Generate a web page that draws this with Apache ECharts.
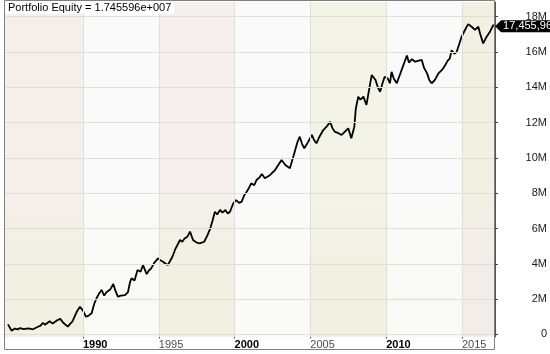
<!DOCTYPE html>
<html><head><meta charset="utf-8">
<script src="https://cdn.jsdelivr.net/npm/echarts@6/dist/echarts.min.js"></script>
<style>html,body{margin:0;padding:0;background:#fff}#c{width:550px;height:354px}</style>
</head><body><div id="c"></div>
<script>
// Decimal years and portfolio equity (millions)
const years = [1985.05,1985.2,1985.3,1985.5,1985.7,1985.84,1986.1,1986.4,1986.7,1987.0,1987.2,1987.36,1987.5,1987.8,1988.0,1988.3,1988.5,1988.7,1989.0,1989.15,1989.3,1989.6,1989.8,1990.0,1990.2,1990.35,1990.57,1990.75,1990.9,1991.05,1991.23,1991.4,1991.56,1991.8,1992.0,1992.15,1992.3,1992.5,1992.77,1992.97,1993.1,1993.2,1993.4,1993.6,1993.8,1993.96,1994.2,1994.35,1994.5,1994.7,1994.95,1995.1,1995.28,1995.45,1995.6,1995.9,1996.1,1996.4,1996.55,1996.7,1996.9,1997.06,1997.26,1997.5,1997.7,1998.0,1998.2,1998.4,1998.55,1998.7,1998.85,1999.04,1999.2,1999.4,1999.55,1999.7,1999.9,2000.1,2000.3,2000.47,2000.65,2000.8,2000.95,2001.1,2001.3,2001.45,2001.65,2001.8,2002.0,2002.1,2002.3,2002.45,2002.67,2002.85,2003.1,2003.35,2003.65,2003.85,2004.0,2004.15,2004.3,2004.45,2004.6,2004.85,2005.1,2005.25,2005.4,2005.6,2005.85,2006.1,2006.3,2006.45,2006.6,2006.85,2007.06,2007.3,2007.5,2007.7,2007.9,2008.0,2008.16,2008.3,2008.5,2008.7,2008.9,2009.05,2009.3,2009.45,2009.6,2009.75,2009.9,2010.1,2010.25,2010.36,2010.5,2010.7,2010.9,2011.1,2011.37,2011.5,2011.7,2011.9,2012.1,2012.35,2012.5,2012.7,2012.85,2013.0,2013.2,2013.45,2013.7,2013.9,2014.05,2014.2,2014.32,2014.5,2014.65,2014.8,2014.98,2015.31,2015.42,2015.64,2015.86,2016.08,2016.19,2016.4,2016.63,2016.85,2016.96,2017.07,2017.12];
const equity = [0.57,0.35,0.21,0.33,0.28,0.36,0.30,0.34,0.29,0.42,0.50,0.65,0.55,0.74,0.62,0.80,0.88,0.66,0.44,0.60,0.72,1.30,1.57,1.35,1.00,1.05,1.20,1.75,2.06,2.30,2.52,2.20,2.40,2.55,2.86,2.45,2.14,2.20,2.23,2.40,2.95,3.18,3.05,3.65,3.55,3.93,3.42,3.62,3.74,4.05,4.31,4.20,4.12,4.00,3.93,4.40,4.85,5.35,5.25,5.44,5.55,5.82,5.35,5.20,5.16,5.25,5.60,6.01,6.45,6.95,6.80,7.05,6.90,7.05,6.85,6.95,7.40,7.61,7.45,7.52,7.90,8.08,8.30,8.56,8.45,8.75,8.90,9.09,8.85,8.93,9.00,9.13,9.31,9.55,9.88,9.60,9.41,10.0,10.45,10.9,11.2,10.8,10.54,10.9,11.3,11.0,10.83,11.2,11.58,11.8,12.05,11.7,11.49,11.4,11.3,11.5,11.68,11.11,11.77,12.8,13.47,13.3,13.47,13.0,14.0,14.7,14.41,14.0,13.75,14.2,14.6,14.5,14.23,14.88,14.5,14.23,14.7,15.17,15.8,15.4,15.6,15.45,15.5,15.55,15.1,14.79,14.4,14.23,14.4,14.79,15.0,15.26,15.5,15.64,16.1,15.9,16.0,16.4,16.87,17.43,17.58,17.43,17.25,17.43,17.06,16.49,16.87,17.15,17.06,17.53,17.45596];
const lastValueText = '17,455,960';
const titleText = 'Portfolio Equity = 1.745596e+007';
const xTicks = [1990, 1995, 2000, 2005, 2010, 2015];
const yTicks = [0, 2, 4, 6, 8, 10, 12, 14, 16, 18];
const bandEdges = [1984.79, 1990, 1995, 2000, 2005, 2010, 2015, 2017.18];

const grad = (a, b) => ({type:'linear', x:0, y:0, x2:0, y2:1, colorStops:[{offset:0,color:a},{offset:0.55,color:a},{offset:0.8,color:b},{offset:1,color:b}]});
const bandColors = [
  grad('#f5efeb', '#f1f0e3'),
  grad('#fafafa', '#f9f9f6'),
  grad('#f5f0ed', '#f1f0e3'),
  grad('#fafafa', '#fafaf8'),
  grad('#f4f3e8', '#f1f0e3'),
  grad('#fafafa', '#f9f9f6'),
  grad('#f1f0e2', '#f3edea')
];
const bands = [];
for (let i = 0; i < bandEdges.length - 1; i++) {
  bands.push([{xAxis: bandEdges[i], itemStyle:{color: bandColors[i]}}, {xAxis: bandEdges[i+1]}]);
}
const gridLines = yTicks.map(v => ({yAxis: v})).concat(xTicks.map(v => ({xAxis: v})));
const data = years.map((y, i) => [y, equity[i]]);
const last = data[data.length - 1];

const chart = echarts.init(document.getElementById('c'), null, {renderer:'canvas'});
chart.setOption({
  animation: false,
  backgroundColor: '#ffffff',
  textStyle: {fontFamily: 'Arial, "Liberation Sans", sans-serif'},
  title: {
    text: titleText, left: 5, top: 1,
    backgroundColor: '#ffffff', padding: [1, 3, 1, 3],
    textStyle: {fontSize: 11, fontWeight: 'normal', color: '#000', fontFamily: 'Arial, "Liberation Sans", sans-serif'}
  },
  grid: {left: 4, right: 55, top: 2, bottom: 17, containLabel: false},
  xAxis: {
    type: 'value', min: 1984.79, max: 2017.18,
    axisLine: {show: true, lineStyle: {color: '#666', width: 1}},
    axisTick: {show: true, length: 4, customValues: xTicks, lineStyle: {color: '#444'}},
    axisLabel: {
      customValues: xTicks, align: 'left', margin: 2, fontSize: 11,
      formatter: v => (v % 10 === 0 ? '{b|' + v + '}' : '{n|' + v + '}'),
      rich: {b: {fontWeight: 'bold', color: '#000', fontSize: 11}, n: {color: '#4c4c5c', fontSize: 11}}
    },
    splitLine: {show: false}
  },
  yAxis: {
    type: 'value', position: 'right', min: -0.147, max: 18.833,
    axisLine: {show: true, lineStyle: {color: '#555'}},
    axisTick: {show: true, length: 3, customValues: yTicks, lineStyle: {color: '#444'}},
    axisLabel: {
      customValues: yTicks, align: 'right', margin: 52, fontSize: 11, color: '#1a1a1a',
      formatter: v => (v === 0 ? '0' : v + 'M')
    },
    splitLine: {show: false}
  },
  graphic: [{
    type: 'rect', shape: {x: 4.5, y: 0.5, width: 490, height: 349},
    style: {fill: 'none', stroke: '#808080', lineWidth: 1}, z: 100, silent: true
  }],
  series: [
    {
      type: 'line', data: [data[0]], showSymbol: false, lineStyle: {opacity: 0}, z: 1, silent: true,
      markArea: {silent: true, data: bands},
      markLine: {silent: true, symbol: 'none', label: {show: false},
        lineStyle: {color: '#e0dfd5', type: 'solid', width: 1}, data: gridLines}
    },
    {
      type: 'line', data: data, showSymbol: false, z: 3,
      lineStyle: {color: '#000', width: 1.8}, itemStyle: {color: '#000'},
      markPoint: {
        silent: true,
        data: [{coord: last, value: lastValueText}],
        symbol: 'path://M0,6 L6,0 L60,0 L60,12 L6,12 Z',
        symbolSize: [60, 12], symbolOffset: [31, 0],
        itemStyle: {color: '#000'},
        label: {show: true, position: 'insideLeft', distance: 8, color: '#fff', fontSize: 11,
          formatter: p => p.value}
      }
    }
  ]
});
</script></body></html>
